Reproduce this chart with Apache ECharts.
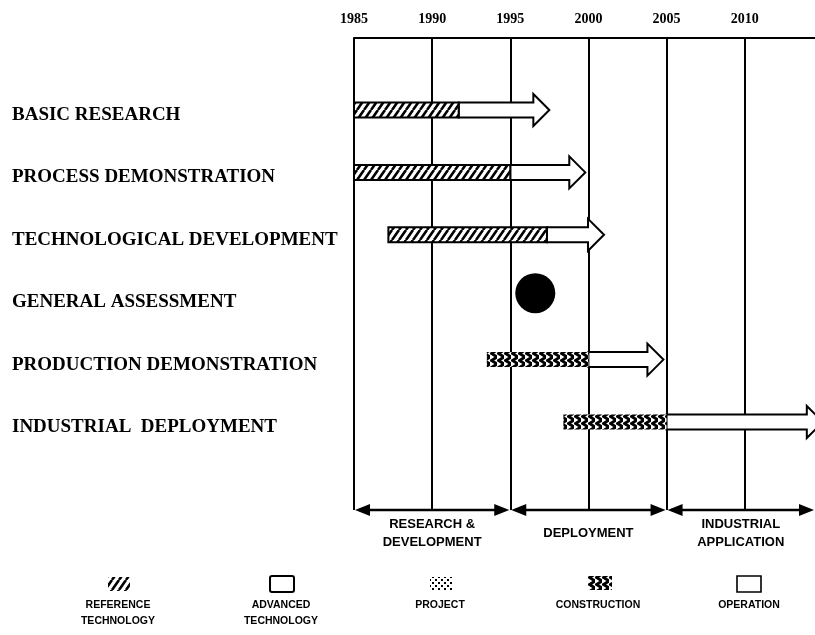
<!DOCTYPE html>
<html>
<head>
<meta charset="utf-8">
<script src="https://cdn.jsdelivr.net/npm/echarts@6/dist/echarts.min.js"></script>
<style>
html,body{margin:0;padding:0;background:#fff;}
#chart{width:815px;height:635px;}
</style>
</head>
<body>
<div id="chart"></div>
<script>
// ---------- data ----------
const tasks = ['BASIC RESEARCH', 'PROCESS DEMONSTRATION', 'TECHNOLOGICAL DEVELOPMENT',
  'GENERAL ASSESSMENT', 'PRODUCTION DEMONSTRATION', 'INDUSTRIAL  DEPLOYMENT'];
const years = [1985, 1990, 1995, 2000, 2005, 2010];
// [row, start year, end year]
const referenceBars = [[0, 1985, 1991.7], [1, 1985, 1995], [2, 1987.2, 1997.35]];
const constructionBars = [[4, 1993.5, 2000], [5, 1998.4, 2005]];
const advancedArrows = [[0, 1991.7, 1997.5], [1, 1995, 1999.8], [2, 1997.35, 2001.0], [4, 2000, 2004.8], [5, 2005, 2015]];
// [row, year]
const milestones = [[3, 1996.6]];
// [start, end, label]
const phases = [[1985, 1995, 'RESEARCH &\nDEVELOPMENT'], [1995, 2005, 'DEPLOYMENT'], [2005, 2014.5, 'INDUSTRIAL\nAPPLICATION']];
const legendItems = ['REFERENCE\nTECHNOLOGY', 'ADVANCED\nTECHNOLOGY', 'PROJECT', 'CONSTRUCTION', 'OPERATION'];

const X_MIN = 1985, X_MAX = 2014.5;
const Y_MIN = -1.154, Y_MAX = 6.41;

// ---------- patterns ----------
function tile(w, h, draw) {
  const c = document.createElement('canvas');
  c.width = w; c.height = h;
  const g = c.getContext('2d');
  draw(g);
  return { image: c, repeat: 'repeat' };
}
const hatch = tile(7, 10, g => {
  g.fillStyle = '#fff'; g.fillRect(0, 0, 7, 10);
  g.strokeStyle = '#000'; g.lineWidth = 2.6;
  g.beginPath();
  g.moveTo(0, 10); g.lineTo(7, 0);
  g.moveTo(-7, 10); g.lineTo(0, 0);
  g.moveTo(7, 10); g.lineTo(14, 0);
  g.stroke();
});
const braid = tile(7, 7, g => {
  g.fillStyle = '#fff'; g.fillRect(0, 0, 7, 7);
  g.strokeStyle = '#000'; g.lineWidth = 2.8;
  g.beginPath();
  g.moveTo(7, 0); g.lineTo(1.5, 3.5); g.lineTo(7, 7);
  g.stroke();
});
const dots = tile(6, 6, g => {
  g.fillStyle = '#fff'; g.fillRect(0, 0, 6, 6);
  g.fillStyle = '#000';
  g.fillRect(0, 0, 2, 2);
  g.fillRect(3, 3, 2, 2);
});

const SERIF = '"Liberation Serif", "DejaVu Serif", serif';
const SANS = '"Liberation Sans", Arial, sans-serif';

const chart = echarts.init(document.getElementById('chart'), null, { renderer: 'canvas' });

function barSeries(data, fill, stroke) {
  return {
    type: 'custom', data: data, encode: { x: [1, 2], y: 0 }, clip: true, z: 3,
    renderItem: (params, api) => {
      const y = api.value(0);
      const p1 = api.coord([api.value(1), y]);
      const p2 = api.coord([api.value(2), y]);
      return {
        type: 'rect',
        shape: { x: p1[0], y: p1[1] - 7.5, width: p2[0] - p1[0], height: 15 },
        style: { fill: fill, stroke: stroke ? '#000' : null, lineWidth: stroke ? 2 : 0 }
      };
    }
  };
}

const option = {
  animation: false,
  backgroundColor: '#fff',
  grid: { left: 354, right: 0, top: 38, bottom: 635 - 510, containLabel: false },
  xAxis: {
    type: 'value', position: 'top', min: X_MIN, max: X_MAX, interval: 5,
    axisLine: { show: true, onZero: false, lineStyle: { color: '#000', width: 2 } },
    axisTick: { show: false },
    axisLabel: {
      showMaxLabel: false, margin: 12, color: '#000', fontFamily: SERIF,
      fontWeight: 'bold', fontSize: 14,
      formatter: v => (years.indexOf(v) >= 0 ? String(v) : '')
    },
    splitLine: { show: true, showMaxLine: false, lineStyle: { color: '#000', width: 2 } }
  },
  yAxis: { type: 'value', inverse: true, min: Y_MIN, max: Y_MAX, show: false },
  series: [
    // row labels
    {
      type: 'custom', data: tasks.map((t, i) => [X_MIN, i]), encode: { x: 0, y: 1 }, clip: false,
      renderItem: (params, api) => {
        const p = api.coord([X_MIN, api.value(1)]);
        return {
          type: 'text', x: 12, y: p[1] + 5,
          style: { text: tasks[params.dataIndex], fontFamily: SERIF, fontWeight: 'bold', fontSize: 19,
            fill: '#000', verticalAlign: 'middle', align: 'left' }
        };
      }
    },
    // advanced technology / operation arrows
    {
      type: 'custom', data: advancedArrows, encode: { x: [1, 2], y: 0 }, clip: true, z: 2,
      renderItem: (params, api) => {
        const y = api.value(0);
        const a = api.coord([api.value(1), y]);
        const b = api.coord([api.value(2), y]);
        const cy = a[1], hl = 16, sh = 7.5, hh = 16;
        const pts = [[a[0], cy - sh], [b[0] - hl, cy - sh], [b[0] - hl, cy - hh], [b[0], cy],
          [b[0] - hl, cy + hh], [b[0] - hl, cy + sh], [a[0], cy + sh]];
        return { type: 'polygon', shape: { points: pts }, style: { fill: '#fff', stroke: '#000', lineWidth: 2 } };
      }
    },
    barSeries(referenceBars, hatch, true),
    barSeries(constructionBars, braid, false),
    // milestone circle
    {
      type: 'custom', data: milestones, encode: { x: 1, y: 0 }, z: 3,
      renderItem: (params, api) => {
        const p = api.coord([api.value(1), api.value(0)]);
        return { type: 'circle', shape: { cx: p[0], cy: p[1] - 4, r: 20 }, style: { fill: '#000' } };
      }
    },
    // phase arrows and labels
    {
      type: 'custom', data: phases, encode: { x: [0, 1] }, clip: false, z: 4,
      renderItem: (params, api) => {
        const a = api.coord([api.value(0), Y_MAX]);
        const b = api.coord([api.value(1), Y_MAX]);
        const y = a[1], L = 15, H = 6;
        const x1 = a[0] + 1, x2 = b[0] - 1;
        return {
          type: 'group',
          children: [
            { type: 'line', shape: { x1: x1 + 4, y1: y, x2: x2 - 4, y2: y }, style: { stroke: '#000', lineWidth: 2.5 } },
            { type: 'polygon', shape: { points: [[x1, y], [x1 + L, y - H], [x1 + L, y + H]] }, style: { fill: '#000' } },
            { type: 'polygon', shape: { points: [[x2, y], [x2 - L, y - H], [x2 - L, y + H]] }, style: { fill: '#000' } },
            { type: 'text', x: (a[0] + b[0]) / 2, y: y + 23,
              style: { text: phases[params.dataIndex][2], fontFamily: SANS, fontWeight: 'bold', fontSize: 13,
                lineHeight: 18, fill: '#000', align: 'center', verticalAlign: 'middle' } }
          ]
        };
      }
    }
  ],
  graphic: [
    { type: 'rect', shape: { x: 108, y: 577, width: 22, height: 14 }, style: { fill: hatch } },
    { type: 'rect', shape: { x: 270, y: 576, width: 24, height: 16, r: 2 }, style: { fill: '#fff', stroke: '#000', lineWidth: 2 } },
    { type: 'rect', shape: { x: 430, y: 577, width: 22, height: 13 }, style: { fill: dots } },
    { type: 'rect', shape: { x: 588, y: 576, width: 24, height: 14 }, style: { fill: braid } },
    { type: 'rect', shape: { x: 737, y: 576, width: 24, height: 16 }, style: { fill: '#fff', stroke: '#000', lineWidth: 1.6 } },
    ...[118, 281, 440, 598, 749].map((cx, i) => ({
      type: 'text', x: cx, y: 597,
      style: { text: legendItems[i], fontFamily: SANS, fontWeight: 'bold', fontSize: 10.5, lineHeight: 16,
        fill: '#000', align: 'center', verticalAlign: 'top' }
    }))
  ]
};
chart.setOption(option);
</script>
</body>
</html>
